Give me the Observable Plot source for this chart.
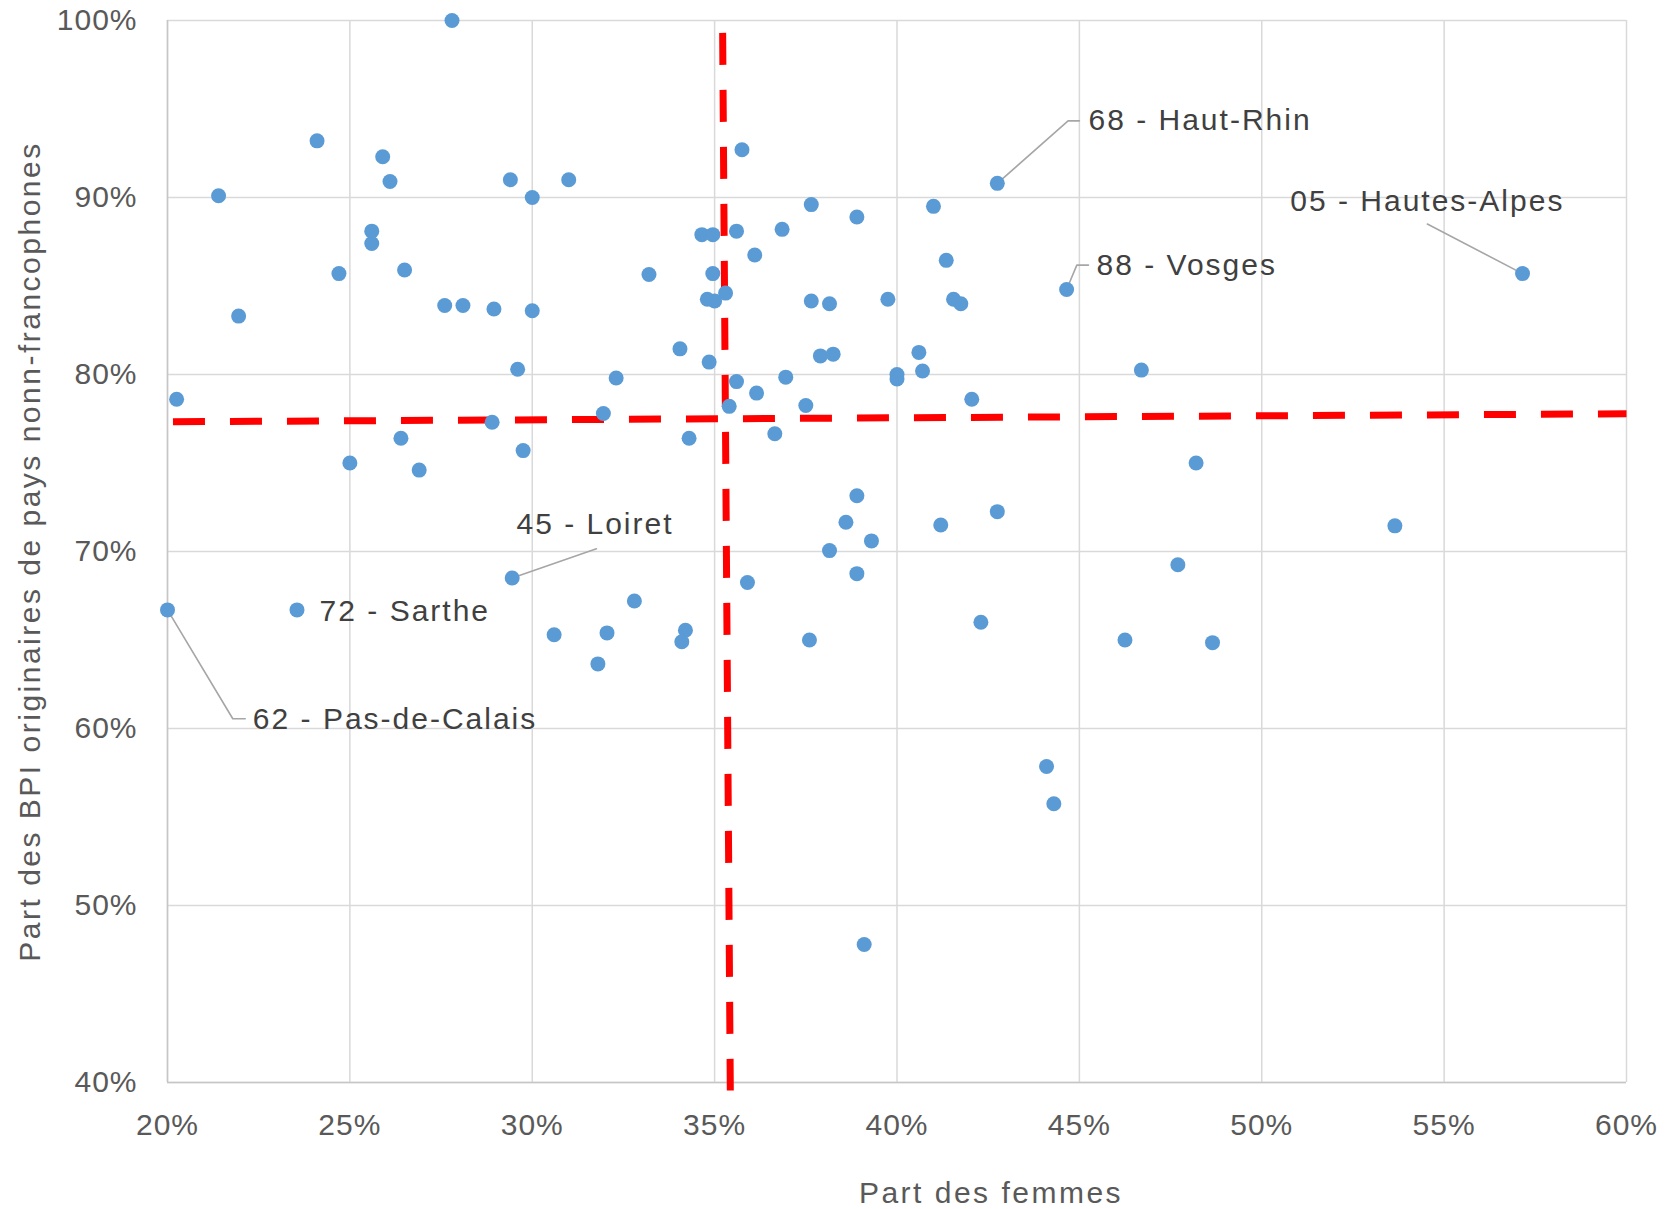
<!DOCTYPE html>
<html>
<head>
<meta charset="utf-8">
<script src="https://cdn.jsdelivr.net/npm/d3@7"></script>
<script src="https://cdn.jsdelivr.net/npm/@observablehq/plot@0.6"></script>
<style>
  html, body { margin: 0; padding: 0; background: #ffffff; }
  #chart svg text { letter-spacing: 1px; }
  #chart svg g.anno text { letter-spacing: 2px; }
  #chart svg g.title text { letter-spacing: 2.5px; }
</style>
</head>
<body>
<div id="chart"></div>
<script>
// Part des femmes (%) per département
const femmes = [
  27.8, 24.1, 21.4, 25.9, 26.1, 29.4, 30.0, 25.6, 25.6, 24.7,
  26.5, 27.6, 28.1, 28.95, 30.0, 21.95, 29.6, 20.25, 28.9, 31.0,
  35.75, 42.75, 37.65, 38.9, 41.0, 34.65, 34.95, 35.6, 36.85, 36.1,
  41.35, 44.65, 33.2, 34.95, 34.8, 35.0, 35.3, 37.65, 38.15, 39.75,
  41.55, 41.75, 34.05, 34.85, 37.9, 38.25, 40.6, 40.7, 40.0, 40.0,
  32.3, 35.6, 36.95, 36.15, 42.05, 31.95, 35.4, 37.5, 57.15, 46.7,
  25.0, 26.4, 26.9, 29.75, 29.45, 20.0, 23.55, 30.6, 34.3, 36.65,
  38.9, 38.6, 39.3, 38.15, 38.9, 35.9, 41.2, 42.75, 42.3, 32.8,
  32.05, 31.8, 34.2, 34.1, 37.6, 44.1, 44.3, 48.2, 53.65, 47.7,
  46.25, 48.65, 39.1
];
// Part des BPI originaires de pays non-francophones (%)
const bpi = [
  100, 93.2, 90.1, 92.3, 90.9, 91.0, 90.0, 88.1, 87.4, 85.7,
  85.9, 83.9, 83.9, 83.7, 83.6, 83.3, 80.3, 78.6, 77.3, 91.0,
  92.7, 90.8, 89.6, 88.9, 89.5, 87.9, 87.9, 88.1, 88.2, 86.75,
  86.45, 84.8, 85.65, 85.7, 84.25, 84.15, 84.6, 84.15, 84.0, 84.25,
  84.25, 84.0, 81.45, 80.7, 81.05, 81.15, 81.25, 80.2, 80.0, 79.75,
  79.8, 79.6, 79.85, 78.95, 78.6, 77.8, 78.2, 78.25, 85.7, 80.25,
  75.0, 76.4, 74.6, 75.7, 68.5, 66.7, 66.7, 65.3, 76.4, 76.65,
  73.15, 71.65, 70.6, 70.05, 68.75, 68.25, 71.5, 72.25, 66.0, 67.2,
  65.4, 63.65, 65.55, 64.9, 65.0, 57.85, 55.75, 75.0, 71.45, 69.25,
  65.0, 64.85, 47.8
];

// Tick values
const xTicks = [20, 25, 30, 35, 40, 45, 50, 55, 60];
const yTicks = [40, 50, 60, 70, 80, 90, 100];

// Red dashed reference lines (data units)
const hLineX = [20.15, 60];
const hLineY = [77.33, 77.78];
const vLineX = [35.22, 35.43];
const vLineY = [99.3, 39.55];

// Annotations (text anchor in data units)
const annoText = ["68 - Haut-Rhin", "88 - Vosges", "05 - Hautes-Alpes", "45 - Loiret", "72 - Sarthe", "62 - Pas-de-Calais"];
const annoX = [45.25, 45.47, 54.54, 31.72, 24.17, 22.34];
const annoY = [94.33, 86.15, 89.8, 71.54, 66.62, 60.5];
const annoAnchor = ["start", "start", "middle", "middle", "start", "start"];

// Leader lines (data units): one id per annotation
const leaderId = [0, 0, 0, 1, 1, 1, 2, 2, 3, 3, 5, 5, 5];
const leaderX  = [42.75, 44.69, 45.0, 44.65, 44.93, 45.25, 57.15, 54.54, 29.45, 31.76, 20.0, 21.79, 22.13];
const leaderY  = [90.8, 94.33, 94.33, 84.8, 86.18, 86.18, 85.7, 88.5, 68.5, 70.15, 66.7, 60.55, 60.55];

const pct = d => `${d}%`;
const idx = a => a.map((_, i) => i);
const annoMark = anchor => Plot.text(idx(annoText).filter(i => annoAnchor[i] === anchor), {
  x: i => annoX[i], y: i => annoY[i], text: i => annoText[i],
  textAnchor: anchor, lineAnchor: "middle",
  fontSize: 30, fill: "#404040", className: "anno"
});

const chart = Plot.plot({
  width: 1670,
  height: 1209,
  marginLeft: 167,
  marginRight: 44,
  marginTop: 20,
  marginBottom: 127,
  style: {
    fontFamily: "'Liberation Sans', Arial, sans-serif",
    fontSize: "30px",
    color: "#595959",
    background: "#ffffff",
    overflow: "visible"
  },
  x: { domain: [20, 60] },
  y: { domain: [40, 100] },
  marks: [
    Plot.gridX(xTicks, { stroke: "#d9d9d9", strokeOpacity: 1, strokeWidth: 1.5 }),
    Plot.gridY(yTicks, { stroke: "#d9d9d9", strokeOpacity: 1, strokeWidth: 1.5 }),
    Plot.ruleX([20], { stroke: "#c6c6c6", strokeWidth: 1.5 }),
    Plot.ruleY([40], { stroke: "#c6c6c6", strokeWidth: 1.5 }),
    Plot.axisX(xTicks, { tickSize: 0, tickPadding: 31, tickFormat: pct, label: null, fontSize: 30, fill: "#595959" }),
    Plot.axisY(yTicks, { tickSize: 0, tickPadding: 30, tickFormat: pct, label: null, fontSize: 30, fill: "#595959" }),
    Plot.line(idx(hLineX), { x: i => hLineX[i], y: i => hLineY[i], stroke: "#ff0000", strokeWidth: 7, strokeDasharray: "32,25", strokeLinecap: "butt" }),
    Plot.line(idx(vLineX), { x: i => vLineX[i], y: i => vLineY[i], stroke: "#ff0000", strokeWidth: 7, strokeDasharray: "32,25", strokeLinecap: "butt" }),
    Plot.line(idx(leaderX), { x: i => leaderX[i], y: i => leaderY[i], z: i => leaderId[i], stroke: "#a6a6a6", strokeWidth: 1.6 }),
    Plot.dot(idx(femmes), { x: i => femmes[i], y: i => bpi[i], r: 7.5, fill: "#5b9bd5", stroke: "none" }),
    annoMark("start"),
    annoMark("middle"),
    Plot.text(["Part des femmes"], { frameAnchor: "bottom", dx: 94, dy: 111, textAnchor: "middle", lineAnchor: "middle", fontSize: 30, fill: "#595959", className: "title" }),
    Plot.text(["Part des BPI originaires de pays nonn-francophones"], { frameAnchor: "left", dx: -137, rotate: -90, textAnchor: "middle", lineAnchor: "middle", fontSize: 30, fill: "#595959", className: "title" })
  ]
});

document.getElementById("chart").appendChild(chart);
</script>
</body>
</html>
